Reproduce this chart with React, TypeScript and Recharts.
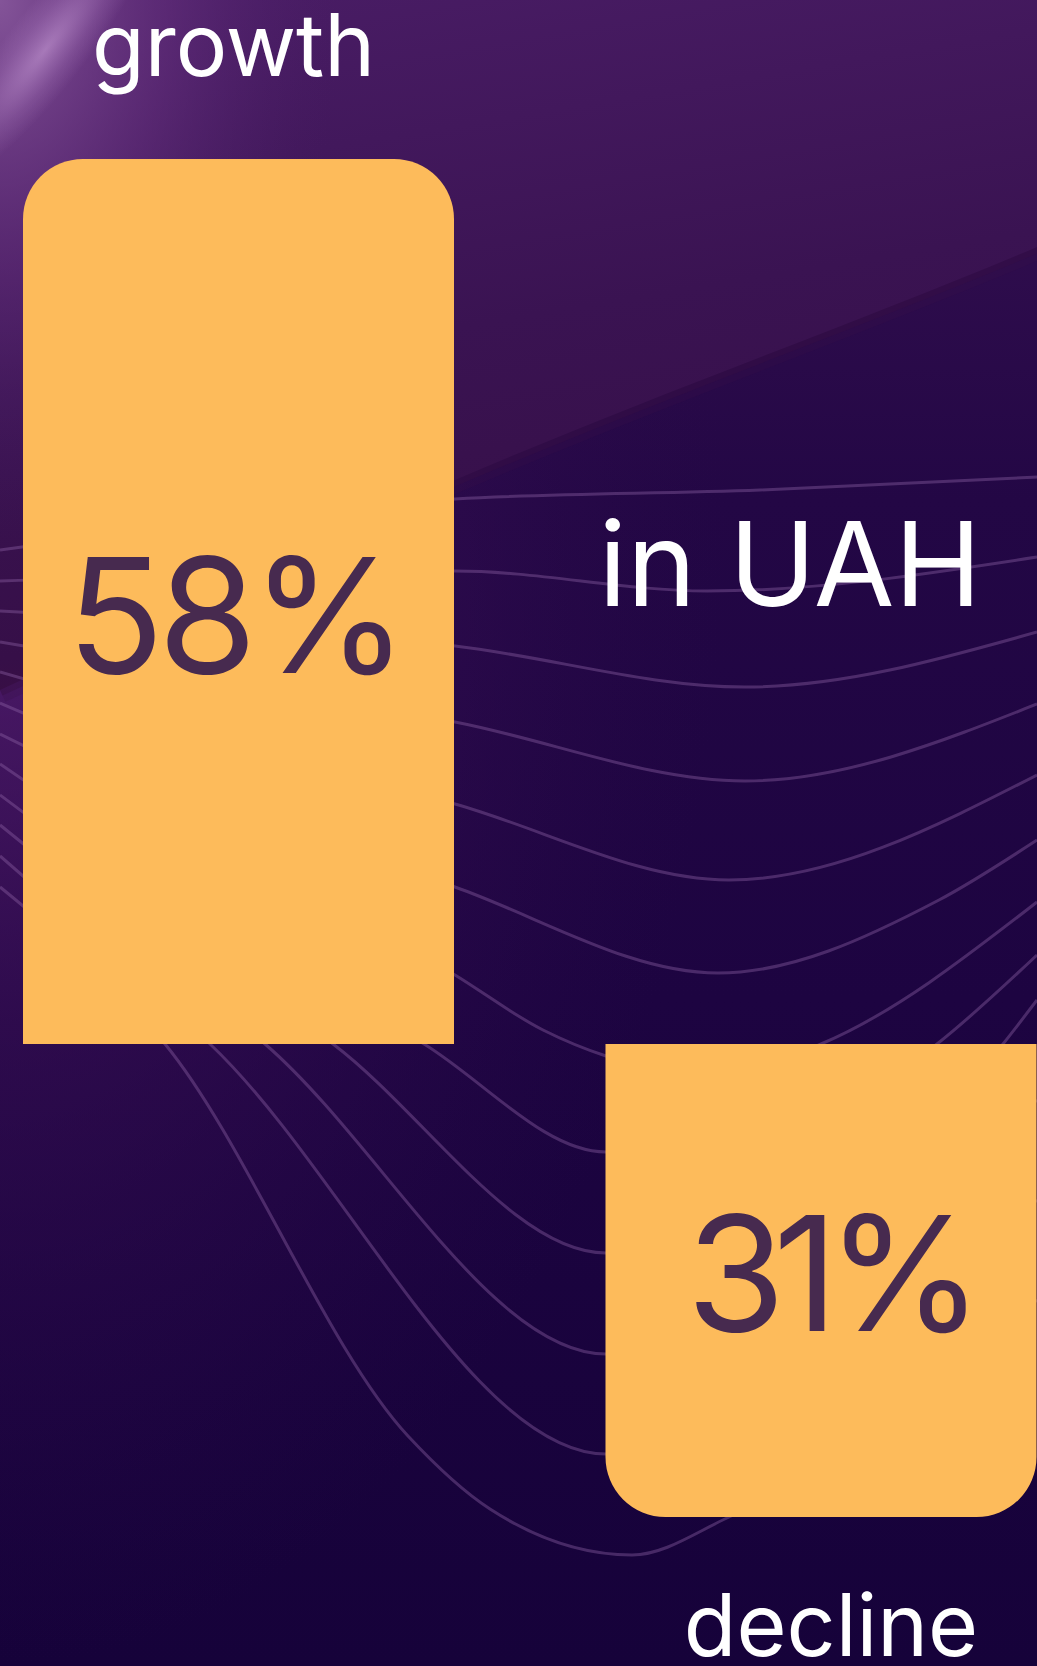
import { BarChart, Bar, XAxis, YAxis, LabelList, Rectangle, Curve } from "recharts";

const categories = ["growth", "decline"];
const changes = [58, -31];
const unitTitle = "in UAH";

const data = categories.map((name, i) => ({ name, change: changes[i] }));

const W = 1037;
const H = 1666;
const FONT = "Inter, 'Noto Sans', sans-serif";
const BAR_COLOR = "#FDBB5B";
const INK = "#472A4F";

// decorative background waves (not data)
const waves: [number, number][][] = [
  [[0, 550], [455, 499], [760, 490], [1037, 477]],
  [[0, 581], [455, 571], [707, 591], [1037, 557]],
  [[0, 611], [455, 646], [745, 687], [1037, 632]],
  [[0, 642], [455, 722], [745, 781], [1037, 704]],
  [[0, 672], [455, 804], [729, 880], [1037, 775]],
  [[0, 703], [455, 887], [718, 973], [939, 900], [1037, 840]],
  [[0, 734], [455, 975], [543, 1030], [606, 1056], [720, 1075], [821, 1044], [1037, 902]],
  [[0, 764], [424, 1044], [606, 1152], [760, 1150], [937, 1044], [1037, 955]],
  [[0, 795], [333, 1044], [606, 1253], [850, 1200], [1003, 1044], [1037, 1000]],
  [[0, 825], [265, 1044], [606, 1354], [1037, 1100]],
  [[0, 856], [210, 1044], [606, 1454], [1037, 1200]],
  [[0, 887], [165, 1044], [408, 1436], [490, 1509], [632, 1555], [727, 1518], [1037, 1300]],
];

const SHEET_EDGE = "M1037,247 C860,322 660,392 455,480 L0,690";

function Background() {
  return (
    <svg width={W} height={H} style={{ position: "absolute", left: 0, top: 0 }}>
      <defs>
        <linearGradient id="base" x1="0" y1="0" x2="0" y2="1">
          <stop offset="0" stopColor="#3a1254" />
          <stop offset="0.3" stopColor="#230745" />
          <stop offset="0.6" stopColor="#1d0441" />
          <stop offset="1" stopColor="#16023a" />
        </linearGradient>
        <radialGradient id="leftGlow" cx="0" cy="0.3" r="0.7">
          <stop offset="0" stopColor="#5e2378" stopOpacity="0.9" />
          <stop offset="0.45" stopColor="#3f1259" stopOpacity="0.5" />
          <stop offset="1" stopColor="#2a0a4a" stopOpacity="0" />
        </radialGradient>
        <linearGradient id="sheet" x1="0" y1="0" x2="0.25" y2="1">
          <stop offset="0" stopColor="#4a1d66" />
          <stop offset="0.55" stopColor="#3a1352" />
          <stop offset="0.9" stopColor="#360f48" />
          <stop offset="1" stopColor="#3a0e42" />
        </linearGradient>
        <radialGradient id="corner" cx="0" cy="0" r="1">
          <stop offset="0" stopColor="#8a5a9e" stopOpacity="0.9" />
          <stop offset="0.5" stopColor="#6a3482" stopOpacity="0.5" />
          <stop offset="1" stopColor="#4a1d66" stopOpacity="0" />
        </radialGradient>
        <radialGradient id="streak">
          <stop offset="0" stopColor="#d2a6e0" stopOpacity="0.55" />
          <stop offset="0.6" stopColor="#c090d2" stopOpacity="0.2" />
          <stop offset="1" stopColor="#c090d2" stopOpacity="0" />
        </radialGradient>
      </defs>
      <rect width={W} height={H} fill="url(#base)" />
      <rect width={W} height={H} fill="url(#leftGlow)" />
      {/* soft edge of the upper sheet */}
      <path d={SHEET_EDGE} fill="none" stroke="#360e46" strokeOpacity={0.25} strokeWidth={26} />
      <path d={SHEET_EDGE} fill="none" stroke="#380e44" strokeOpacity={0.4} strokeWidth={12} />
      <path d={`M0,0 L1037,0 L1037,247 ${SHEET_EDGE.slice(9)} Z`} fill="url(#sheet)" />
      <rect x={0} y={0} width={340} height={540} fill="url(#corner)" />
      <ellipse cx={45} cy={50} rx={170} ry={40} fill="url(#streak)"
        transform="rotate(-52 45 50)" />
      {waves.map((pts, i) => (
        <Curve
          key={i}
          type="monotoneX"
          points={pts.map(([x, y]) => ({ x, y }))}
          stroke="#8a5fa2"
          strokeOpacity={0.42}
          strokeWidth={3}
          fill="none"
        />
      ))}
    </svg>
  );
}

function RoundedBar(props: any) {
  const { x, y, width, height, payload } = props;
  const top = Math.min(y, y + height);
  const h = Math.abs(height);
  const r = 60;
  const radius: [number, number, number, number] =
    payload.change >= 0 ? [r, r, 0, 0] : [0, 0, r, r];
  return <Rectangle x={x} y={top} width={width} height={h} radius={radius} fill={BAR_COLOR} />;
}

function ValueLabel(props: any) {
  const { x, y, width, height, value } = props;
  const top = Math.min(y, y + height);
  const h = Math.abs(height);
  const up = value >= 0;
  const base = top + h / 2 + (up ? 72 : 51);
  return (
    <text x={x + width / 2 + (up ? -4 : 8)} y={base} textAnchor="middle" fill={INK}
      style={{ fontSize: 160, fontFamily: FONT, fontWeight: 400, letterSpacing: up ? -6 : -12,
        fontVariantNumeric: "proportional-nums" }}>
      {Math.abs(value)}%
    </text>
  );
}

function NameLabel(props: any) {
  const { x, y, width, height, value, index } = props;
  const top = Math.min(y, y + height);
  const bottom = Math.max(y, y + height);
  const up = changes[index] >= 0;
  return (
    <text x={x + width / 2 + (up ? -5 : 10)} y={up ? top - 83 : bottom + 139} textAnchor="middle"
      fill="#ffffff" style={{ fontSize: 86, fontFamily: FONT, fontWeight: 400 }}>
      {value}
    </text>
  );
}

export default function App() {
  return (
    <div style={{ position: "absolute", left: 0, top: 0, width: W, height: H, overflow: "hidden" }}>
      <Background />
      <div style={{ position: "absolute", left: -53, top: 0 }}>
        <BarChart width={1165} height={H} data={data}
          margin={{ top: 159, right: 0, bottom: 149, left: 0 }}>
          <XAxis dataKey="name" hide />
          <YAxis hide domain={["dataMin", "dataMax"]} />
          <Bar dataKey="change" barSize={431} shape={RoundedBar} isAnimationActive={false}>
            <LabelList dataKey="change" content={ValueLabel} />
            <LabelList dataKey="name" content={NameLabel} />
          </Bar>
        </BarChart>
      </div>
      <svg width={W} height={H} style={{ position: "absolute", left: 0, top: 0, pointerEvents: "none" }}>
        <text x={790} y={606} textAnchor="middle" fill="#ffffff"
          style={{ fontSize: 117, fontFamily: FONT, fontWeight: 400 }}>
          {unitTitle}
        </text>
      </svg>
    </div>
  );
}
